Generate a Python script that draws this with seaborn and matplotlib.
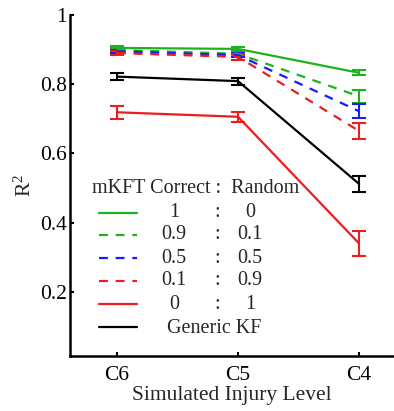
import numpy as np
import pandas as pd
import matplotlib
matplotlib.use('Agg')
import matplotlib.pyplot as plt
import seaborn as sns

# 資料
levels = ['C6', 'C5', 'C4']
series_names = ['1:0', '0.9:0.1', '0.5:0.5', '0.1:0.9', '0:1', 'Generic KF']
r2_10 = [0.905, 0.902, 0.833]
r2_0901 = [0.899, 0.888, 0.765]
r2_0505 = [0.895, 0.884, 0.722]
r2_0109 = [0.890, 0.879, 0.665]
r2_01 = [0.719, 0.706, 0.340]
r2_kf = [0.822, 0.809, 0.512]
err_10 = [0.005, 0.005, 0.007]
err_0901 = [0.005, 0.006, 0.019]
err_0505 = [0.005, 0.006, 0.020]
err_0109 = [0.006, 0.008, 0.022]
err_01 = [0.018, 0.015, 0.036]
err_kf = [0.010, 0.010, 0.023]
left_col = ['1', '0.9', '0.5', '0.1', '0']
right_col = ['0', '0.1', '0.5', '0.9', '1']

values = [r2_10, r2_0901, r2_0505, r2_0109, r2_01, r2_kf]
errors = [err_10, err_0901, err_0505, err_0109, err_01, err_kf]

colors = {'1:0': '#1fb21f', '0.9:0.1': '#1fb21f', '0.5:0.5': '#1a1aff',
          '0.1:0.9': '#ee1c1c', '0:1': '#ee1c1c', 'Generic KF': '#000000'}
dashes = {'1:0': '', '0.9:0.1': (4, 3.5), '0.5:0.5': (4, 3.5),
          '0.1:0.9': (4, 3.5), '0:1': '', 'Generic KF': ''}

rows = []
for name, vals in zip(series_names, values):
    for i, v in enumerate(vals):
        rows.append({'pos': i, 'r2': v, 'series': name})
df = pd.DataFrame(rows)

sns.set_style('ticks')
plt.rcParams['font.family'] = ['Liberation Serif', 'DejaVu Serif']
plt.rcParams['mathtext.fontset'] = 'custom'
plt.rcParams['mathtext.rm'] = 'Liberation Serif'
plt.rcParams['mathtext.it'] = 'Liberation Serif:italic'
plt.rcParams['font.size'] = 15

fig = plt.figure(figsize=(3.94, 4.11), dpi=100)
ax = fig.add_axes([70 / 394, 55 / 411, 323 / 394, 341 / 411])

# 誤差線
for name, vals, errs in zip(series_names, values, errors):
    ax.errorbar(range(len(levels)), vals, yerr=errs, fmt='none',
                ecolor=colors[name], elinewidth=1.5, capsize=5, capthick=1.5)

sns.lineplot(data=df, x='pos', y='r2', hue='series', style='series',
             hue_order=series_names, style_order=series_names,
             palette=colors, dashes=dashes, linewidth=1.6, ax=ax, legend=False)

ax.set_xlim(-0.388, 2.28)
ax.set_ylim(0.015, 1)
ax.set_xticks(range(len(levels)))
ax.set_xticklabels(levels)
ax.set_yticks([0.2, 0.4, 0.6, 0.8, 1])
ax.set_yticklabels(['0.2', '0.4', '0.6', '0.8', '1'])
ax.tick_params(direction='in', length=3, width=1.5, colors='black', labelsize=15.5,
               pad=2)
ax.tick_params(axis='x', pad=7)
ax.set_xlabel('Simulated Injury Level', fontsize=15.5, labelpad=1)
ax.set_ylabel('R$^2$', fontsize=15.5, labelpad=3)
sns.despine(ax=ax)
for s in ['left', 'bottom']:
    ax.spines[s].set_linewidth(1.8)
    ax.spines[s].set_color('black')

# 圖例 (手動排列)
handles = [plt.Line2D([], [], color=colors[n], lw=1.6,
                      linestyle=(0, dashes[n]) if dashes[n] else '-')
           for n in series_names]
leg = ax.legend(handles, [''] * 6, loc='upper left', bbox_to_anchor=(0.067, 0.461),
                frameon=False, handlelength=2.1, labelspacing=0.32, borderaxespad=0,
                prop={'size': 13})

fs = 14.5
ax.text(0.068, 0.49, 'mKFT Correct :  Random', transform=ax.transAxes,
        ha='left', va='center', fontsize=fs)
row_y = [0.422, 0.355, 0.287, 0.220, 0.150]
for y, l, r in zip(row_y, left_col, right_col):
    ax.text(0.322, y, l, transform=ax.transAxes, ha='center', va='center', fontsize=fs)
    ax.text(0.455, y, ':', transform=ax.transAxes, ha='center', va='center', fontsize=fs)
    ax.text(0.557, y, r, transform=ax.transAxes, ha='center', va='center', fontsize=fs)
ax.text(0.446, 0.082, 'Generic KF', transform=ax.transAxes, ha='center', va='center',
        fontsize=fs)

fig.savefig('out.png', dpi=100)
